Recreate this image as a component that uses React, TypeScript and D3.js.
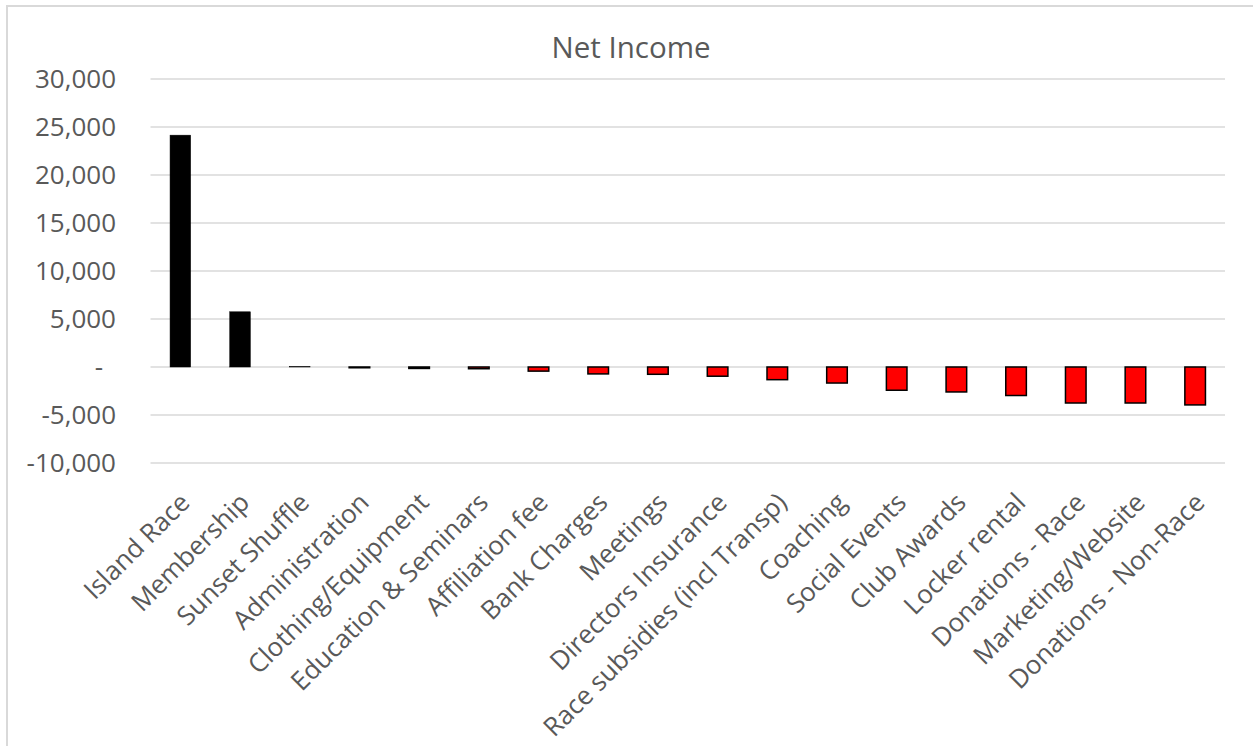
import React from "react";
import * as d3 from "d3";

const categories = [
  "Island Race",
  "Membership",
  "Sunset Shuffle",
  "Administration",
  "Clothing/Equipment",
  "Education & Seminars",
  "Affiliation fee",
  "Bank Charges",
  "Meetings",
  "Directors Insurance",
  "Race subsidies (incl Transp)",
  "Coaching",
  "Social Events",
  "Club Awards",
  "Locker rental",
  "Donations - Race",
  "Marketing/Website",
  "Donations - Non-Race",
];

const netIncome = [
  24150, 5750, 30, -80, -150, -180, -430, -720, -760, -960, -1320, -1670,
  -2420, -2600, -2970, -3750, -3750, -3950,
];

const yTicks = [-10000, -5000, 0, 5000, 10000, 15000, 20000, 25000, 30000];

const W = 1253;
const H = 746;
const plot = { left: 150.5, right: 1225, top: 79, bottom: 463 };
const FONT = "'Open Sans', 'Noto Sans', sans-serif";

export default function App() {
  const x = d3
    .scaleBand<string>()
    .domain(categories)
    .range([plot.left, plot.right])
    .paddingInner(0.655)
    .paddingOuter(0.3275);
  const y = d3
    .scaleLinear()
    .domain([-10000, 30000])
    .range([plot.bottom, plot.top]);

  const fmt = (v: number) =>
    v === 0 ? "-" : d3.format(",")(v).replace("\u2212", "-");

  return (
    <svg
      width={W}
      height={H}
      style={{ position: "absolute", left: 0, top: 0, background: "#fff" }}
      fontFamily={FONT}
    >
      <rect x={0} y={0} width={W} height={H} fill="#fff" />
      <rect
        x={7}
        y={6}
        width={W + 20}
        height={H + 20}
        fill="none"
        stroke="#d9d9d9"
        strokeWidth={2}
      />
      <text
        x={631}
        y={58}
        textAnchor="middle"
        fontSize={29.5}
        fill="#595959"
      >
        Net Income
      </text>
      {yTicks.map((t) => (
        <g key={t}>
          <line
            x1={plot.left}
            x2={plot.right}
            y1={y(t)}
            y2={y(t)}
            stroke="#d9d9d9"
            strokeWidth={1.5}
          />
          <text
            x={t === 0 ? 103 : 116}
            y={y(t) - 1}
            textAnchor="end"
            dominantBaseline="central"
            fontSize={26}
            fill="#595959"
          >
            {fmt(t)}
          </text>
        </g>
      ))}
      {categories.map((c, i) => {
        const v = netIncome[i];
        const y0 = y(0);
        const y1 = y(v);
        const neg = v < 0;
        return (
          <rect
            key={c}
            x={x(c)!}
            width={x.bandwidth()}
            y={Math.min(y0, y1)}
            height={Math.abs(y1 - y0)}
            fill={neg ? "#ff0000" : "#000000"}
            stroke="#000"
            strokeWidth={neg ? 1.5 : 0.5}
          />
        );
      })}
      {categories.map((c) => {
        const cx = x(c)! + x.bandwidth() / 2;
        return (
          <text
            key={c}
            transform={`translate(${cx - 2},${491}) rotate(-45)`}
            textAnchor="end"
            dy="0.71em"
            fontSize={26}
            fill="#595959"
          >
            {c}
          </text>
        );
      })}
    </svg>
  );
}
